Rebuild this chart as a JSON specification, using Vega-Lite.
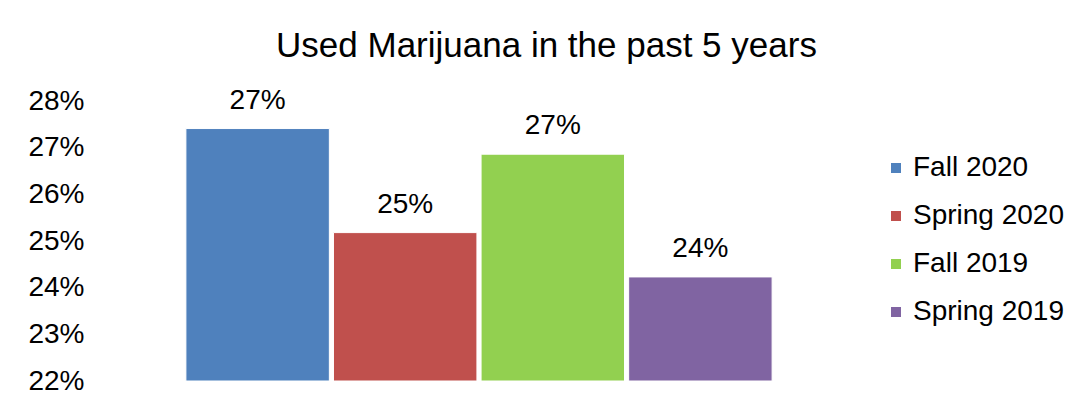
{
  "$schema": "https://vega.github.io/schema/vega-lite/v6.json",
  "width": 776,
  "height": 280,
  "padding": {"left": 27, "top": 28, "right": 10, "bottom": 20},
  "background": "white",
  "config": {
    "font": "Liberation Sans",
    "view": {"stroke": null}
  },
  "title": {
    "text": "Used Marijuana in the past 5 years",
    "fontSize": 35,
    "fontWeight": "normal",
    "font": "Liberation Sans",
    "color": "#000000",
    "anchor": "middle",
    "frame": "bounds",
    "offset": 23
  },
  "data": {
    "values": [
      {"term": "Fall 2020", "value": 0.2741},
      {"term": "Spring 2020", "value": 0.2518},
      {"term": "Fall 2019", "value": 0.2686},
      {"term": "Spring 2019", "value": 0.2423}
    ]
  },
  "encoding": {
    "x": {
      "field": "term",
      "type": "nominal",
      "sort": ["Fall 2020", "Spring 2020", "Fall 2019", "Spring 2019"],
      "scale": {"paddingInner": 0.028, "paddingOuter": 0.643},
      "axis": null
    }
  },
  "layer": [
    {
      "mark": {"type": "bar", "clip": true, "stroke": "white", "strokeWidth": 1},
      "encoding": {
        "y": {
          "field": "value",
          "type": "quantitative",
          "scale": {"domain": [0.22, 0.28], "zero": false, "nice": false},
          "axis": {
            "title": null,
            "format": ".0%",
            "values": [0.22, 0.23, 0.24, 0.25, 0.26, 0.27, 0.28],
            "grid": false,
            "domain": false,
            "ticks": false,
            "labelFontSize": 28,
            "labelColor": "#000000",
            "labelPadding": 7,
            "labelFont": "Liberation Sans"
          }
        },
        "y2": {"datum": 0.22},
        "color": {
          "field": "term",
          "type": "nominal",
          "sort": ["Fall 2020", "Spring 2020", "Fall 2019", "Spring 2019"],
          "scale": {
            "domain": ["Fall 2020", "Spring 2020", "Fall 2019", "Spring 2019"],
            "range": ["#4F81BD", "#C0504D", "#92D050", "#8064A2"]
          },
          "legend": {
            "title": null,
            "orient": "none",
            "legendX": 791,
            "legendY": 53,
            "symbolType": "square",
            "symbolSize": 100,
            "symbolStrokeWidth": 0,
            "labelFontSize": 28,
            "labelColor": "#000000",
            "labelFont": "Liberation Sans",
            "rowPadding": 20,
            "labelOffset": 3
          }
        }
      }
    },
    {
      "mark": {"type": "text", "fontSize": 28, "baseline": "alphabetic", "dy": -20, "color": "#000000", "font": "Liberation Sans"},
      "encoding": {
        "y": {"field": "value", "type": "quantitative"},
        "text": {"field": "value", "type": "quantitative", "format": ".0%"}
      }
    }
  ]
}
